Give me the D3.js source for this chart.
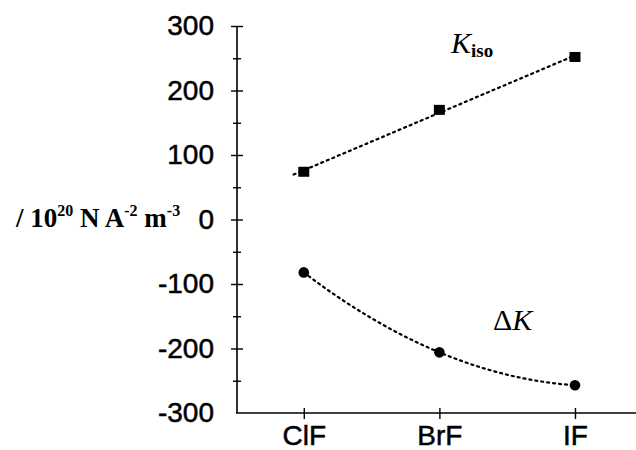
<!DOCTYPE html>
<html><head><meta charset="utf-8">
<script src="https://cdn.jsdelivr.net/npm/d3@7/dist/d3.min.js"></script>
<style>body{margin:0;background:#fff}svg{display:block}</style>
</head><body>
<script>
const categories = ["ClF", "BrF", "IF"];
const kIso = [74, 170, 252];
const deltaK = [-82, -206, -257];
const yTicks = [-300, -200, -100, 0, 100, 200, 300];

const W = 636, H = 450;
const svg = d3.select("body").append("svg").attr("width", W).attr("height", H);

const x = d3.scaleLinear().domain([-0.5, 2.45]).range([236, 636]);
const y = d3.scaleLinear().domain([-300, 300]).range([413, 26]);

// y axis
const yAxis = d3.axisLeft(y).tickValues(d3.range(-300, 301, 50))
  .tickSize(6).tickPadding(17)
  .tickFormat(d => yTicks.includes(d) ? String(d) : "");
const gy = svg.append("g").attr("transform", "translate(237,0)").call(yAxis);
gy.select(".domain").attr("stroke", "#000").attr("stroke-width", 1.6).attr("d", `M0,${y(300)}V${y(-300)}`);
gy.selectAll(".tick line").attr("stroke", "#000").attr("stroke-width", 1.4)
  .attr("x1", d => d === -300 ? -6 : (d % 100 === 0 ? 6 : 4))
  .attr("x2", d => d % 100 === 0 ? -6 : -4);
gy.selectAll(".tick text").attr("font-family", "Liberation Sans, Arial, sans-serif")
  .attr("font-size", 28).attr("fill", "#000").attr("stroke", "#000").attr("stroke-width", 0.5);

// x axis
const xAxis = d3.axisBottom(x).tickValues([0, 1, 2]).tickSize(5).tickPadding(7)
  .tickFormat(i => categories[i]);
const gx = svg.append("g").attr("transform", `translate(0,${y(-300)})`).call(xAxis);
gx.select(".domain").attr("stroke", "#000").attr("stroke-width", 1.6).attr("d", `M${x.range()[0]},0H${x.range()[1]}`);
gx.selectAll(".tick line").attr("stroke", "#000").attr("stroke-width", 1.4).attr("y1", -5).attr("y2", 6);
gx.selectAll(".tick text").attr("font-family", "Liberation Sans, Arial, sans-serif")
  .attr("font-size", 28).attr("fill", "#000").attr("stroke", "#000").attr("stroke-width", 0.5);

// linear fit for K_iso
const idx = [0, 1, 2];
const mx = d3.mean(idx), my = d3.mean(kIso);
const slope = d3.sum(idx, i => (i - mx) * (kIso[i] - my)) / d3.sum(idx, i => (i - mx) ** 2);
const icpt = my - slope * mx;
svg.append("line")
  .attr("x1", x(-0.075)).attr("y1", y(icpt + slope * -0.075))
  .attr("x2", x(2)).attr("y2", y(icpt + slope * 2))
  .attr("stroke", "#000").attr("stroke-width", 2.2).attr("stroke-dasharray", "2,4").attr("stroke-linecap", "round");

// quadratic curve for delta K through the points
const a = (deltaK[2] - 2 * deltaK[1] + deltaK[0]) / 2;
const b = deltaK[1] - deltaK[0] - a;
const c = deltaK[0];
const ts = d3.range(0, 2.0001, 0.05);
svg.append("path")
  .attr("d", d3.line().x(t => x(t)).y(t => y(c + b * t + a * t * t))(ts))
  .attr("fill", "none").attr("stroke", "#000").attr("stroke-width", 2.2)
  .attr("stroke-dasharray", "2,4").attr("stroke-linecap", "round");

// markers
svg.selectAll("rect.kiso").data(kIso).join("rect").attr("class", "kiso")
  .attr("x", (d, i) => x(i) - 5.5).attr("y", d => y(d) - 5).attr("width", 11).attr("height", 10).attr("fill", "#000");
svg.selectAll("circle.dk").data(deltaK).join("circle").attr("class", "dk")
  .attr("cx", (d, i) => x(i)).attr("cy", d => y(d)).attr("r", 5.3).attr("fill", "#000");

// labels
const serif = "Liberation Serif, Times New Roman, serif";
const t1 = svg.append("text").attr("x", 451).attr("y", 53).attr("font-family", serif).attr("fill", "#000");
t1.append("tspan").attr("font-style", "italic").attr("font-size", 30).text("K");
t1.append("tspan").attr("font-size", 19).attr("font-weight", "bold").attr("dy", 4).text("iso");

const t2 = svg.append("text").attr("x", 493).attr("y", 330).attr("font-family", serif).attr("fill", "#000").attr("font-size", 30);
t2.append("tspan").text("Δ");
t2.append("tspan").attr("font-style", "italic").text("K");

const t3 = svg.append("text").attr("x", 16).attr("y", 227).attr("font-family", serif)
  .attr("font-weight", "bold").attr("font-size", 27).attr("fill", "#000");
t3.append("tspan").text("/ 10");
t3.append("tspan").attr("font-size", 16).attr("dy", -11).text("20");
t3.append("tspan").attr("dy", 11).text(" N A");
t3.append("tspan").attr("font-size", 16).attr("dy", -11).text("-2");
t3.append("tspan").attr("dy", 11).text(" m");
t3.append("tspan").attr("font-size", 16).attr("dy", -11).text("-3");
</script>
</body></html>
